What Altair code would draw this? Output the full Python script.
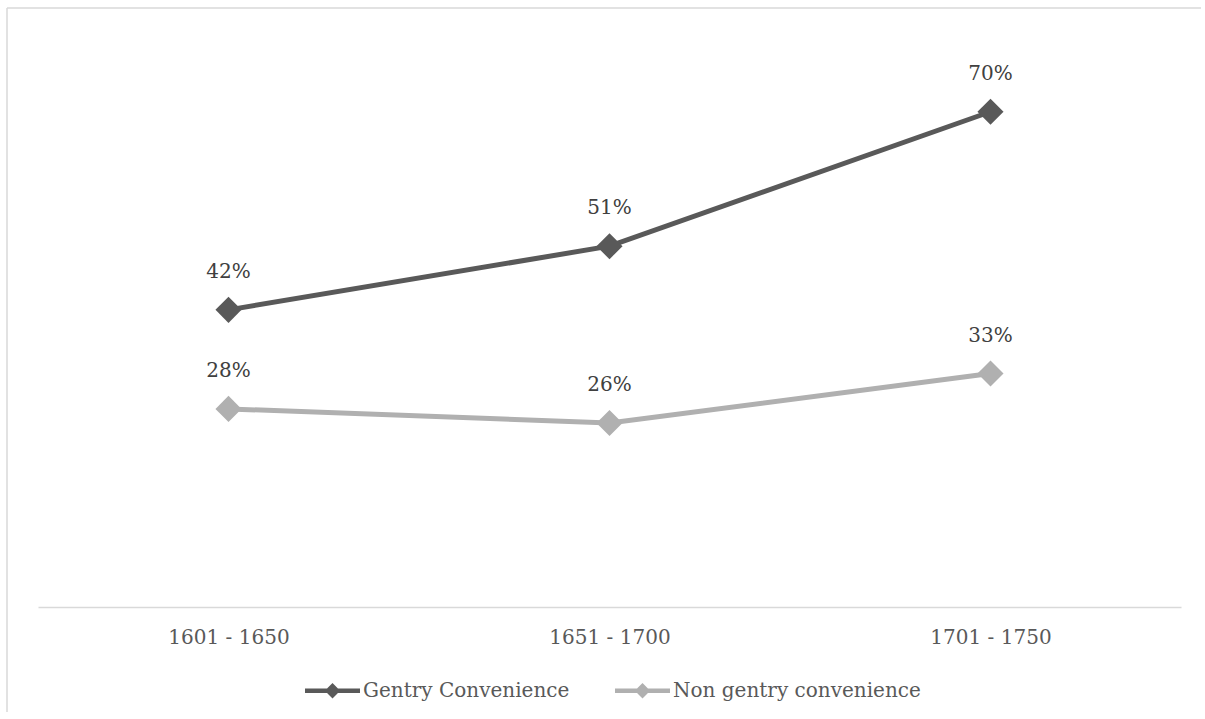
import altair as alt
import pandas as pd

# Periods on the x axis and the two series plotted against them
periods = ["1601 - 1650", "1651 - 1700", "1701 - 1750"]
series_names = ["Gentry Convenience", "Non gentry convenience"]
gentry = [0.42, 0.51, 0.70]
non_gentry = [0.28, 0.26, 0.33]
series_colors = ["#595959", "#b0b0b0"]

rows = []
for name, values in zip(series_names, [gentry, non_gentry]):
    for period, value in zip(periods, values):
        rows.append({"period": period, "series": name, "share": value})
df = pd.DataFrame(rows)

FONT = "DejaVu Serif"
W, H = 1143, 566
FRAME_COLOR = "#d9d9d9"

# Legend symbol: a short thick line with a diamond in the middle
legend_symbol = (
    "M-1,-0.085L1,-0.085L1,0.085L-1,0.085Z "
    "M0,-0.28L0.28,0L0,0.28L-0.28,0Z"
)

x_enc = alt.X(
    "period:N",
    sort=periods,
    axis=alt.Axis(
        title=None,
        labelAngle=0,
        ticks=False,
        grid=False,
        domainColor=FRAME_COLOR,
        domainWidth=1.5,
        labelFont=FONT,
        labelFontSize=20,
        labelColor="#595959",
        labelPadding=20,
    ),
)
y_enc = alt.Y("share:Q", scale=alt.Scale(domain=[0, 0.8]), axis=None)

base = alt.Chart(df).encode(x=x_enc, y=y_enc)

# Lines get their colour from a condition, so only the diamonds make a legend
lines = base.mark_line(strokeWidth=5).encode(
    detail="series:N",
    stroke=alt.condition(
        alt.datum.series == series_names[0],
        alt.value(series_colors[0]),
        alt.value(series_colors[1]),
    ),
)

points = base.mark_point(shape="diamond", filled=True, size=680, opacity=1).encode(
    color=alt.Color(
        "series:N",
        scale=alt.Scale(domain=series_names, range=series_colors),
        legend=alt.Legend(
            title=None,
            orient="none",
            legendX=267,
            legendY=622,
            direction="horizontal",
            padding=0,
            symbolType=legend_symbol,
            symbolSize=3025,
            symbolStrokeWidth=0,
            symbolOpacity=1,
            labelFont=FONT,
            labelFontSize=20,
            labelColor="#595959",
            labelOffset=3,
            labelLimit=400,
            columnPadding=45,
        ),
    )
)

labels = base.mark_text(
    dy=-38, font=FONT, fontSize=20, color="#404040", baseline="middle"
).encode(text=alt.Text("share:Q", format=".0%"))

# Light frame edges along the top and left of the figure
frame_src = alt.Chart(pd.DataFrame({"k": [0]}))
frame_top = frame_src.mark_rule(color=FRAME_COLOR, strokeWidth=1.5).encode(
    x=alt.value(-31), x2=alt.value(W + 100), y=alt.value(-33)
)
frame_left = frame_src.mark_rule(color=FRAME_COLOR, strokeWidth=1.5).encode(
    x=alt.value(-31), y=alt.value(-33), y2=alt.value(H + 200)
)

chart = (
    alt.layer(frame_top, frame_left, lines, points, labels)
    .properties(
        width=W,
        height=H,
        autosize=alt.AutoSizeParams(type="none"),
        padding={"left": 38, "top": 41, "right": 20, "bottom": 105},
        background="white",
    )
    .configure_view(stroke=None)
)

chart.save("out.html", embed_options={"renderer": "svg", "actions": False})
